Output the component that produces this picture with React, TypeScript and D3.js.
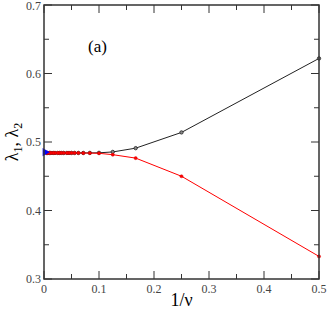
import React from 'react';
import * as d3 from 'd3';

// 1/nu values and the two eigenvalues
const nu = [2, 4, 6, 8, 10, 12, 14, 16, 18, 20, 22, 24, 28, 32, 36, 40, 50, 60, 80, 100, 150, 200];
const lambda1 = [0.622, 0.514, 0.491, 0.4855, 0.4842, 0.4841, 0.484, 0.484, 0.484, 0.484, 0.484, 0.484, 0.484, 0.484, 0.484, 0.484, 0.484, 0.484, 0.484, 0.484, 0.484, 0.484];
const lambda2 = [0.333, 0.450, 0.4765, 0.4815, 0.4835, 0.4838, 0.4839, 0.484, 0.484, 0.484, 0.484, 0.484, 0.484, 0.484, 0.484, 0.484, 0.484, 0.484, 0.484, 0.484, 0.484, 0.484];
const blueX = [0, 0.001, 0.002, 0.003, 0.004];
const blueY = [0.4852, 0.4851, 0.485, 0.4849, 0.4848];

const xTicks = [0, 0.1, 0.2, 0.3, 0.4, 0.5];
const yTicks = [0.3, 0.4, 0.5, 0.6, 0.7];
const xMinor = [0.05, 0.15, 0.25, 0.35, 0.45];
const yMinor = [0.35, 0.45, 0.55, 0.65];

const W = 327, H = 310;
const m = { left: 44, right: 8, top: 5, bottom: 31 };

export default function App() {
  const x = d3.scaleLinear().domain([0, 0.5]).range([m.left, W - m.right]);
  const y = d3.scaleLinear().domain([0.3, 0.7]).range([H - m.bottom, m.top]);

  const pts1 = nu.map((n, i) => [1 / n, lambda1[i]] as [number, number]);
  const pts2 = nu.map((n, i) => [1 / n, lambda2[i]] as [number, number]);
  const ptsB = blueX.map((v, i) => [v, blueY[i]] as [number, number]);

  const line = d3.line<[number, number]>().x(d => x(d[0])).y(d => y(d[1]));

  const x0 = x(0), x1 = x(0.5), y0 = y(0.3), y1 = y(0.7);
  const axisColor = '#333';
  const font = "'Liberation Serif', 'Times New Roman', serif";

  return (
    <svg width={W} height={H} style={{ position: 'absolute', left: 0, top: 0, background: '#fff' }}>
      {/* data */}
      <path d={line(pts1) || ''} fill="none" stroke="#222" strokeWidth={1} />
      {pts1.map((d, i) => (
        <circle key={'b' + i} cx={x(d[0])} cy={y(d[1])} r={1.7} fill="#888" stroke="#222" strokeWidth={0.8} />
      ))}
      <path d={line(pts2) || ''} fill="none" stroke="#ff0000" strokeWidth={1} />
      {pts2.map((d, i) => (
        <circle key={'r' + i} cx={x(d[0])} cy={y(d[1])} r={1.6} fill="#ff0000" stroke="#cc0000" strokeWidth={0.4} />
      ))}
      <path d={line(ptsB) || ''} fill="none" stroke="#0000ff" strokeWidth={2.5} />
      <path d={d3.symbol().type(d3.symbolTriangle).size(30)() || ''}
        transform={`translate(${x(ptsB[0][0]) + 1},${y(ptsB[0][1])}) rotate(90)`} fill="#0000ff" />

      {/* frame */}
      <rect x={x0} y={y1} width={x1 - x0} height={y0 - y1} fill="none" stroke={axisColor} strokeWidth={1.5} />
      {xTicks.map(t => (
        <g key={'xt' + t}>
          <line x1={x(t)} x2={x(t)} y1={y0} y2={y0 - 8} stroke={axisColor} strokeWidth={1} />
          <line x1={x(t)} x2={x(t)} y1={y1} y2={y1 + 8} stroke={axisColor} strokeWidth={1} />
          <text x={x(t)} y={y0 + 14} textAnchor="middle" fontFamily={font} fontSize={12} fill="#444">{t}</text>
        </g>
      ))}
      {xMinor.map(t => (
        <g key={'xm' + t}>
          <line x1={x(t)} x2={x(t)} y1={y0} y2={y0 - 5} stroke={axisColor} strokeWidth={1} />
          <line x1={x(t)} x2={x(t)} y1={y1} y2={y1 + 5} stroke={axisColor} strokeWidth={1} />
        </g>
      ))}
      {yTicks.map(t => (
        <g key={'yt' + t}>
          <line x1={x0} x2={x0 + 8} y1={y(t)} y2={y(t)} stroke={axisColor} strokeWidth={1} />
          <line x1={x1} x2={x1 - 8} y1={y(t)} y2={y(t)} stroke={axisColor} strokeWidth={1} />
          <text x={x0 - 3} y={Math.max(y(t) + 4, 10)} textAnchor="end" fontFamily={font} fontSize={12} fill="#444">{t.toFixed(1)}</text>
        </g>
      ))}
      {yMinor.map(t => (
        <g key={'ym' + t}>
          <line x1={x0} x2={x0 + 5} y1={y(t)} y2={y(t)} stroke={axisColor} strokeWidth={1} />
          <line x1={x1} x2={x1 - 5} y1={y(t)} y2={y(t)} stroke={axisColor} strokeWidth={1} />
        </g>
      ))}

      {/* labels */}
      <text x={(x0 + x1) / 2} y={H - 4} textAnchor="middle" fontFamily={font} fontSize={18} fill="#000">1/ν</text>
      <text transform={`translate(18,${(y0 + y1) / 2}) rotate(-90)`} textAnchor="middle" fontFamily={font} fontSize={18} fill="#000">
        λ<tspan fontSize={12} dy={4}>1</tspan><tspan dy={-4}>, λ</tspan><tspan fontSize={12} dy={4}>2</tspan>
      </text>
      <text x={88} y={52} fontFamily={font} fontSize={17} fill="#000">(a)</text>
    </svg>
  );
}
